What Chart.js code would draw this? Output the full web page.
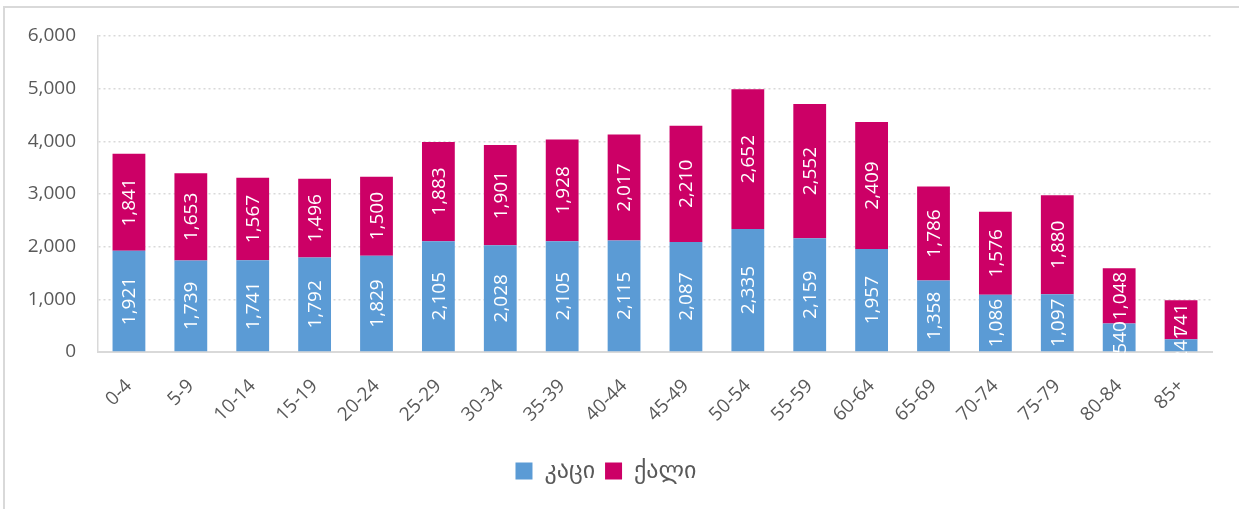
<!DOCTYPE html>
<html>
<head>
<meta charset="utf-8">
<script src="https://cdn.jsdelivr.net/npm/chart.js@4/dist/chart.umd.min.js"></script>
<style>
  html, body { margin: 0; padding: 0; background: #fff; }
  #wrap { position: relative; width: 1239px; height: 509px; overflow: hidden; }
  #frame { position: absolute; left: 3px; top: 6px; width: 1260px; height: 540px;
           border-top: 2px solid #d9d9d9; border-left: 2px solid #d9d9d9; }
  canvas { position: absolute; left: 0; top: 0; }
</style>
</head>
<body>
<div id="wrap">
  <div id="frame"></div>
  <canvas id="chart" width="1239" height="509"></canvas>
</div>
<script>
const ageGroups = ["0-4", "5-9", "10-14", "15-19", "20-24", "25-29", "30-34", "35-39", "40-44",
                   "45-49", "50-54", "55-59", "60-64", "65-69", "70-74", "75-79", "80-84", "85+"];
const men = [1921, 1739, 1741, 1792, 1829, 2105, 2028, 2105, 2115, 2087, 2335, 2159, 1957, 1358, 1086, 1097, 540, 241];
const women = [1841, 1653, 1567, 1496, 1500, 1883, 1901, 1928, 2017, 2210, 2652, 2552, 2409, 1786, 1576, 1880, 1048, 741];
const seriesNames = ["კაცი", "ქალი"];

const BLUE = "#5b9bd5";
const MAGENTA = "#cc0066";
const TEXT = "#595959";
const GRID = "#d9d9d9";
const FONT = "'Open Sans', 'DejaVu Sans', sans-serif";

// white vertical value labels centred in each stacked segment
const segmentLabels = {
  id: "segmentLabels",
  afterDatasetsDraw(chart) {
    const ctx = chart.ctx;
    ctx.save();
    ctx.fillStyle = "#ffffff";
    ctx.font = "19px " + FONT;
    ctx.textAlign = "center";
    ctx.textBaseline = "middle";
    chart.data.datasets.forEach((ds, i) => {
      chart.getDatasetMeta(i).data.forEach((bar, j) => {
        const cy = (bar.y + bar.base) / 2;
        ctx.save();
        ctx.translate(bar.x, cy);
        ctx.rotate(-Math.PI / 2);
        ctx.fillText(ds.data[j].toLocaleString("en-US"), 0, 1);
        ctx.restore();
      });
    });
    ctx.restore();
  },
};

new Chart(document.getElementById("chart"), {
  type: "bar",
  data: {
    labels: ageGroups,
    datasets: [
      { label: seriesNames[0], data: men, backgroundColor: BLUE },
      { label: seriesNames[1], data: women, backgroundColor: MAGENTA },
    ],
  },
  options: {
    responsive: false,
    animation: false,
    datasets: { bar: { barPercentage: 0.53, categoryPercentage: 1 } },
    layout: { padding: { left: 0, right: 27, top: 36, bottom: 16 } },
    plugins: {
      tooltip: { enabled: false },
      legend: {
        position: "bottom",
        labels: {
          color: TEXT,
          font: { size: 24, family: FONT },
          boxWidth: 17,
          boxHeight: 17,
          padding: 10,
        },
      },
    },
    scales: {
      x: {
        stacked: true,
        grid: { display: false },
        border: { display: true, color: GRID, width: 2 },
        ticks: {
          color: TEXT,
          font: { size: 19, family: FONT },
          minRotation: 45,
          maxRotation: 45,
          padding: 15,
        },
        afterFit: (s) => { s.height = 97; },
      },
      y: {
        stacked: true,
        min: 0,
        max: 6000,
        grid: { color: GRID, lineWidth: 1.5, drawTicks: false },
        border: { display: true, color: GRID, width: 1.5, dash: [2, 3] },
        ticks: {
          stepSize: 1000,
          color: TEXT,
          font: { size: 19, family: FONT },
          padding: 22,
          callback: (v) => v.toLocaleString("en-US"),
        },
        afterFit: (s) => { s.width = 98; },
      },
    },
  },
  plugins: [segmentLabels],
});
</script>
</body>
</html>
